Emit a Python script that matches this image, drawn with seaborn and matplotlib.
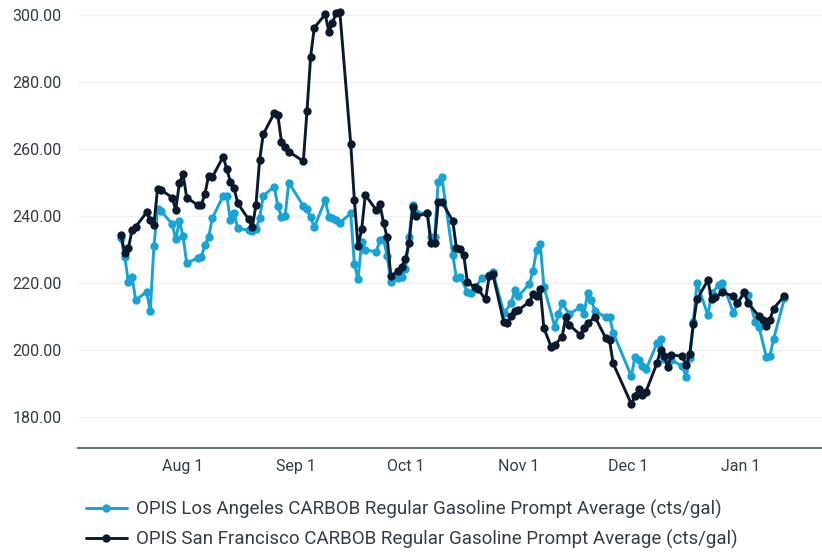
import pandas as pd
import numpy as np
import matplotlib
matplotlib.use('Agg')
import matplotlib.pyplot as plt
import matplotlib.dates as mdates
import seaborn as sns

# 데이터
la_dates = ['2023-07-15', '2023-07-16', '2023-07-17', '2023-07-18', '2023-07-19', '2023-07-22',
            '2023-07-23', '2023-07-24', '2023-07-25', '2023-07-26', '2023-07-29', '2023-07-30',
            '2023-07-31', '2023-08-01', '2023-08-02', '2023-08-05', '2023-08-06', '2023-08-07',
            '2023-08-08', '2023-08-09', '2023-08-12', '2023-08-13', '2023-08-14', '2023-08-15',
            '2023-08-16', '2023-08-19', '2023-08-20', '2023-08-21', '2023-08-22', '2023-08-23',
            '2023-08-26', '2023-08-27', '2023-08-28', '2023-08-29', '2023-08-30', '2023-09-03',
            '2023-09-04', '2023-09-05', '2023-09-06', '2023-09-09', '2023-09-10', '2023-09-11',
            '2023-09-12', '2023-09-13', '2023-09-16', '2023-09-17', '2023-09-18', '2023-09-19',
            '2023-09-20', '2023-09-23', '2023-09-24', '2023-09-25', '2023-09-26', '2023-09-27',
            '2023-09-29', '2023-09-30', '2023-10-01', '2023-10-02', '2023-10-03', '2023-10-04',
            '2023-10-07', '2023-10-08', '2023-10-09', '2023-10-10', '2023-10-11', '2023-10-14',
            '2023-10-15', '2023-10-16', '2023-10-18', '2023-10-19', '2023-10-22', '2023-10-24',
            '2023-10-25', '2023-10-28', '2023-10-30', '2023-10-31', '2023-11-01', '2023-11-04',
            '2023-11-05', '2023-11-06', '2023-11-07', '2023-11-08', '2023-11-11', '2023-11-12',
            '2023-11-13', '2023-11-15', '2023-11-18', '2023-11-19', '2023-11-20', '2023-11-21',
            '2023-11-22', '2023-11-25', '2023-11-26', '2023-11-27', '2023-12-02', '2023-12-03',
            '2023-12-04', '2023-12-05', '2023-12-06', '2023-12-09', '2023-12-10', '2023-12-11',
            '2023-12-12', '2023-12-13', '2023-12-16', '2023-12-17', '2023-12-18', '2023-12-19',
            '2023-12-20', '2023-12-23', '2023-12-24', '2023-12-26', '2023-12-27', '2023-12-30',
            '2023-12-31', '2024-01-02', '2024-01-03', '2024-01-05', '2024-01-06', '2024-01-08',
            '2024-01-09', '2024-01-10', '2024-01-13']
la_values = [233.3, 227.9, 220.2, 221.9, 214.9, 217.4,
             211.6, 231.0, 242.0, 241.5, 237.6, 233.0,
             238.6, 234.0, 225.9, 227.5, 227.9, 231.3,
             233.6, 239.3, 246.0, 246.0, 238.8, 241.0,
             236.3, 235.8, 235.6, 236.0, 239.5, 246.0,
             248.8, 243.0, 239.8, 240.0, 250.0, 243.0,
             242.0, 239.6, 236.6, 244.8, 239.8, 239.3,
             238.7, 238.0, 240.8, 225.7, 221.1, 232.3,
             229.9, 229.3, 232.8, 233.0, 228.1, 220.4,
             221.4, 221.9, 224.1, 233.6, 243.3, 241.0,
             240.8, 233.6, 233.6, 250.2, 251.6, 228.4,
             221.4, 221.9, 217.4, 217.1, 221.4, 222.5,
             223.4, 211.1, 213.9, 217.9, 216.1, 219.7,
             223.7, 229.9, 231.6, 218.9, 207.0, 210.7,
             213.9, 210.7, 212.9, 210.7, 217.1, 214.9,
             211.7, 209.8, 210.0, 205.2, 192.2, 198.0,
             197.0, 195.2, 194.2, 202.0, 203.2, 197.2,
             197.5, 197.0, 195.2, 192.0, 197.5, 208.4,
             219.9, 210.4, 216.9, 219.4, 220.1, 211.1,
             213.9, 217.0, 216.4, 208.4, 207.0, 198.0,
             198.3, 203.2, 215.4]

sf_dates = ['2023-07-15', '2023-07-16', '2023-07-17', '2023-07-18', '2023-07-19', '2023-07-22',
            '2023-07-23', '2023-07-24', '2023-07-25', '2023-07-26', '2023-07-29', '2023-07-30',
            '2023-07-31', '2023-08-01', '2023-08-02', '2023-08-05', '2023-08-06', '2023-08-07',
            '2023-08-08', '2023-08-09', '2023-08-12', '2023-08-13', '2023-08-14', '2023-08-15',
            '2023-08-16', '2023-08-19', '2023-08-20', '2023-08-21', '2023-08-22', '2023-08-23',
            '2023-08-26', '2023-08-27', '2023-08-28', '2023-08-29', '2023-08-30', '2023-09-03',
            '2023-09-04', '2023-09-05', '2023-09-06', '2023-09-09', '2023-09-10', '2023-09-11',
            '2023-09-12', '2023-09-13', '2023-09-16', '2023-09-17', '2023-09-18', '2023-09-19',
            '2023-09-20', '2023-09-23', '2023-09-24', '2023-09-25', '2023-09-26', '2023-09-27',
            '2023-09-29', '2023-09-30', '2023-10-01', '2023-10-02', '2023-10-03', '2023-10-04',
            '2023-10-07', '2023-10-08', '2023-10-09', '2023-10-10', '2023-10-11', '2023-10-14',
            '2023-10-15', '2023-10-16', '2023-10-17', '2023-10-18', '2023-10-20', '2023-10-21',
            '2023-10-23', '2023-10-24', '2023-10-25', '2023-10-28', '2023-10-29', '2023-10-30',
            '2023-10-31', '2023-11-01', '2023-11-04', '2023-11-05', '2023-11-06', '2023-11-07',
            '2023-11-08', '2023-11-10', '2023-11-11', '2023-11-13', '2023-11-14', '2023-11-15',
            '2023-11-18', '2023-11-19', '2023-11-20', '2023-11-22', '2023-11-25', '2023-11-26',
            '2023-11-27', '2023-12-02', '2023-12-03', '2023-12-04', '2023-12-05', '2023-12-06',
            '2023-12-09', '2023-12-10', '2023-12-11', '2023-12-12', '2023-12-13', '2023-12-16',
            '2023-12-17', '2023-12-18', '2023-12-19', '2023-12-20', '2023-12-23', '2023-12-24',
            '2023-12-25', '2023-12-27', '2023-12-30', '2023-12-31', '2024-01-02', '2024-01-03',
            '2024-01-06', '2024-01-07', '2024-01-08', '2024-01-09', '2024-01-10', '2024-01-13']
sf_values = [234.3, 228.9, 230.4, 235.8, 236.8, 241.1,
             238.8, 237.3, 248.1, 247.8, 245.5, 241.8,
             249.9, 252.5, 245.5, 243.3, 243.3, 246.6,
             252.0, 251.6, 257.7, 254.0, 250.2, 248.3,
             243.8, 239.0, 236.6, 243.3, 256.7, 264.4,
             270.7, 270.1, 262.2, 260.7, 259.2, 256.4,
             271.3, 287.6, 296.2, 300.2, 295.0, 297.7,
             300.7, 301.0, 261.5, 244.8, 231.0, 236.0,
             246.3, 241.8, 243.6, 238.0, 233.6, 222.1,
             223.5, 224.9, 227.1, 231.9, 242.6, 240.0,
             240.8, 231.9, 231.9, 244.3, 244.3, 238.5,
             230.4, 230.1, 228.4, 220.4, 218.7, 218.1,
             215.1, 222.1, 222.6, 208.4, 208.0, 210.1,
             211.7, 211.9, 214.4, 216.6, 216.1, 218.1,
             206.5, 201.0, 201.5, 204.0, 209.8, 207.5,
             204.5, 206.5, 208.0, 209.9, 203.5, 203.0,
             196.0, 183.9, 186.3, 188.3, 186.6, 187.6,
             196.0, 200.0, 198.2, 195.0, 198.5, 198.2,
             195.5, 198.7, 207.8, 215.1, 220.9, 215.1,
             215.7, 217.2, 216.1, 213.9, 217.2, 214.1,
             210.1, 209.0, 207.3, 209.0, 212.4, 216.2]

la_name = 'OPIS Los Angeles CARBOB Regular Gasoline Prompt Average (cts/gal)'
sf_name = 'OPIS San Francisco CARBOB Regular Gasoline Prompt Average (cts/gal)'

df = pd.concat([
    pd.DataFrame({'date': pd.to_datetime(la_dates), 'value': la_values, 'series': la_name}),
    pd.DataFrame({'date': pd.to_datetime(sf_dates), 'value': sf_values, 'series': sf_name}),
], ignore_index=True)

sns.set_theme(style='white')
plt.rcParams['font.family'] = ['Roboto', 'DejaVu Sans']

text_color = '#343c4a'
fig = plt.figure(figsize=(8.22, 5.52), dpi=100)
ax = fig.add_axes([0.095, 0.188, 0.905, 0.803])

sns.lineplot(data=df, x='date', y='value', hue='series',
             palette={la_name: '#16a3d6', sf_name: '#0b1a2e'},
             marker='o', markersize=6, markeredgewidth=0, linewidth=2.1,
             ax=ax, legend=True)

ax.set_ylim(170.7, 303.0)
ax.set_yticks([180, 200, 220, 240, 260, 280, 300])
ax.yaxis.set_major_formatter(matplotlib.ticker.FormatStrFormatter('%.2f'))
aug1 = pd.Timestamp('2023-08-01')
ax.set_xlim(aug1 - pd.Timedelta(days=28.8), aug1 + pd.Timedelta(days=175.3))
ax.xaxis.set_major_locator(mdates.MonthLocator(bymonth=[8, 9, 10, 11, 12, 1]))
ax.xaxis.set_major_formatter(mdates.DateFormatter('%b %-d'))

ax.grid(axis='y', color='#f0f0f2', linewidth=1)
ax.set_xlabel('')
ax.set_ylabel('')
for s in ['top', 'right', 'left']:
    ax.spines[s].set_visible(False)
ax.spines['bottom'].set_color('#4a5363')
ax.spines['bottom'].set_linewidth(1.2)
ax.tick_params(axis='x', direction='in', length=5, width=1, color='#4a5363',
               labelsize=11.5, labelcolor=text_color, pad=8)
ax.tick_params(axis='y', length=0, labelsize=11.5, labelcolor=text_color, pad=12)

handles, labels = ax.get_legend_handles_labels()
ax.legend_.remove()
fig.legend(handles, labels, loc='upper left', bbox_to_anchor=(0.095, 0.108),
           frameon=False, fontsize=13.5, labelcolor=text_color,
           handlelength=2.2, handletextpad=0.5, labelspacing=0.55, borderaxespad=0)

fig.savefig('out.png', dpi=100)
